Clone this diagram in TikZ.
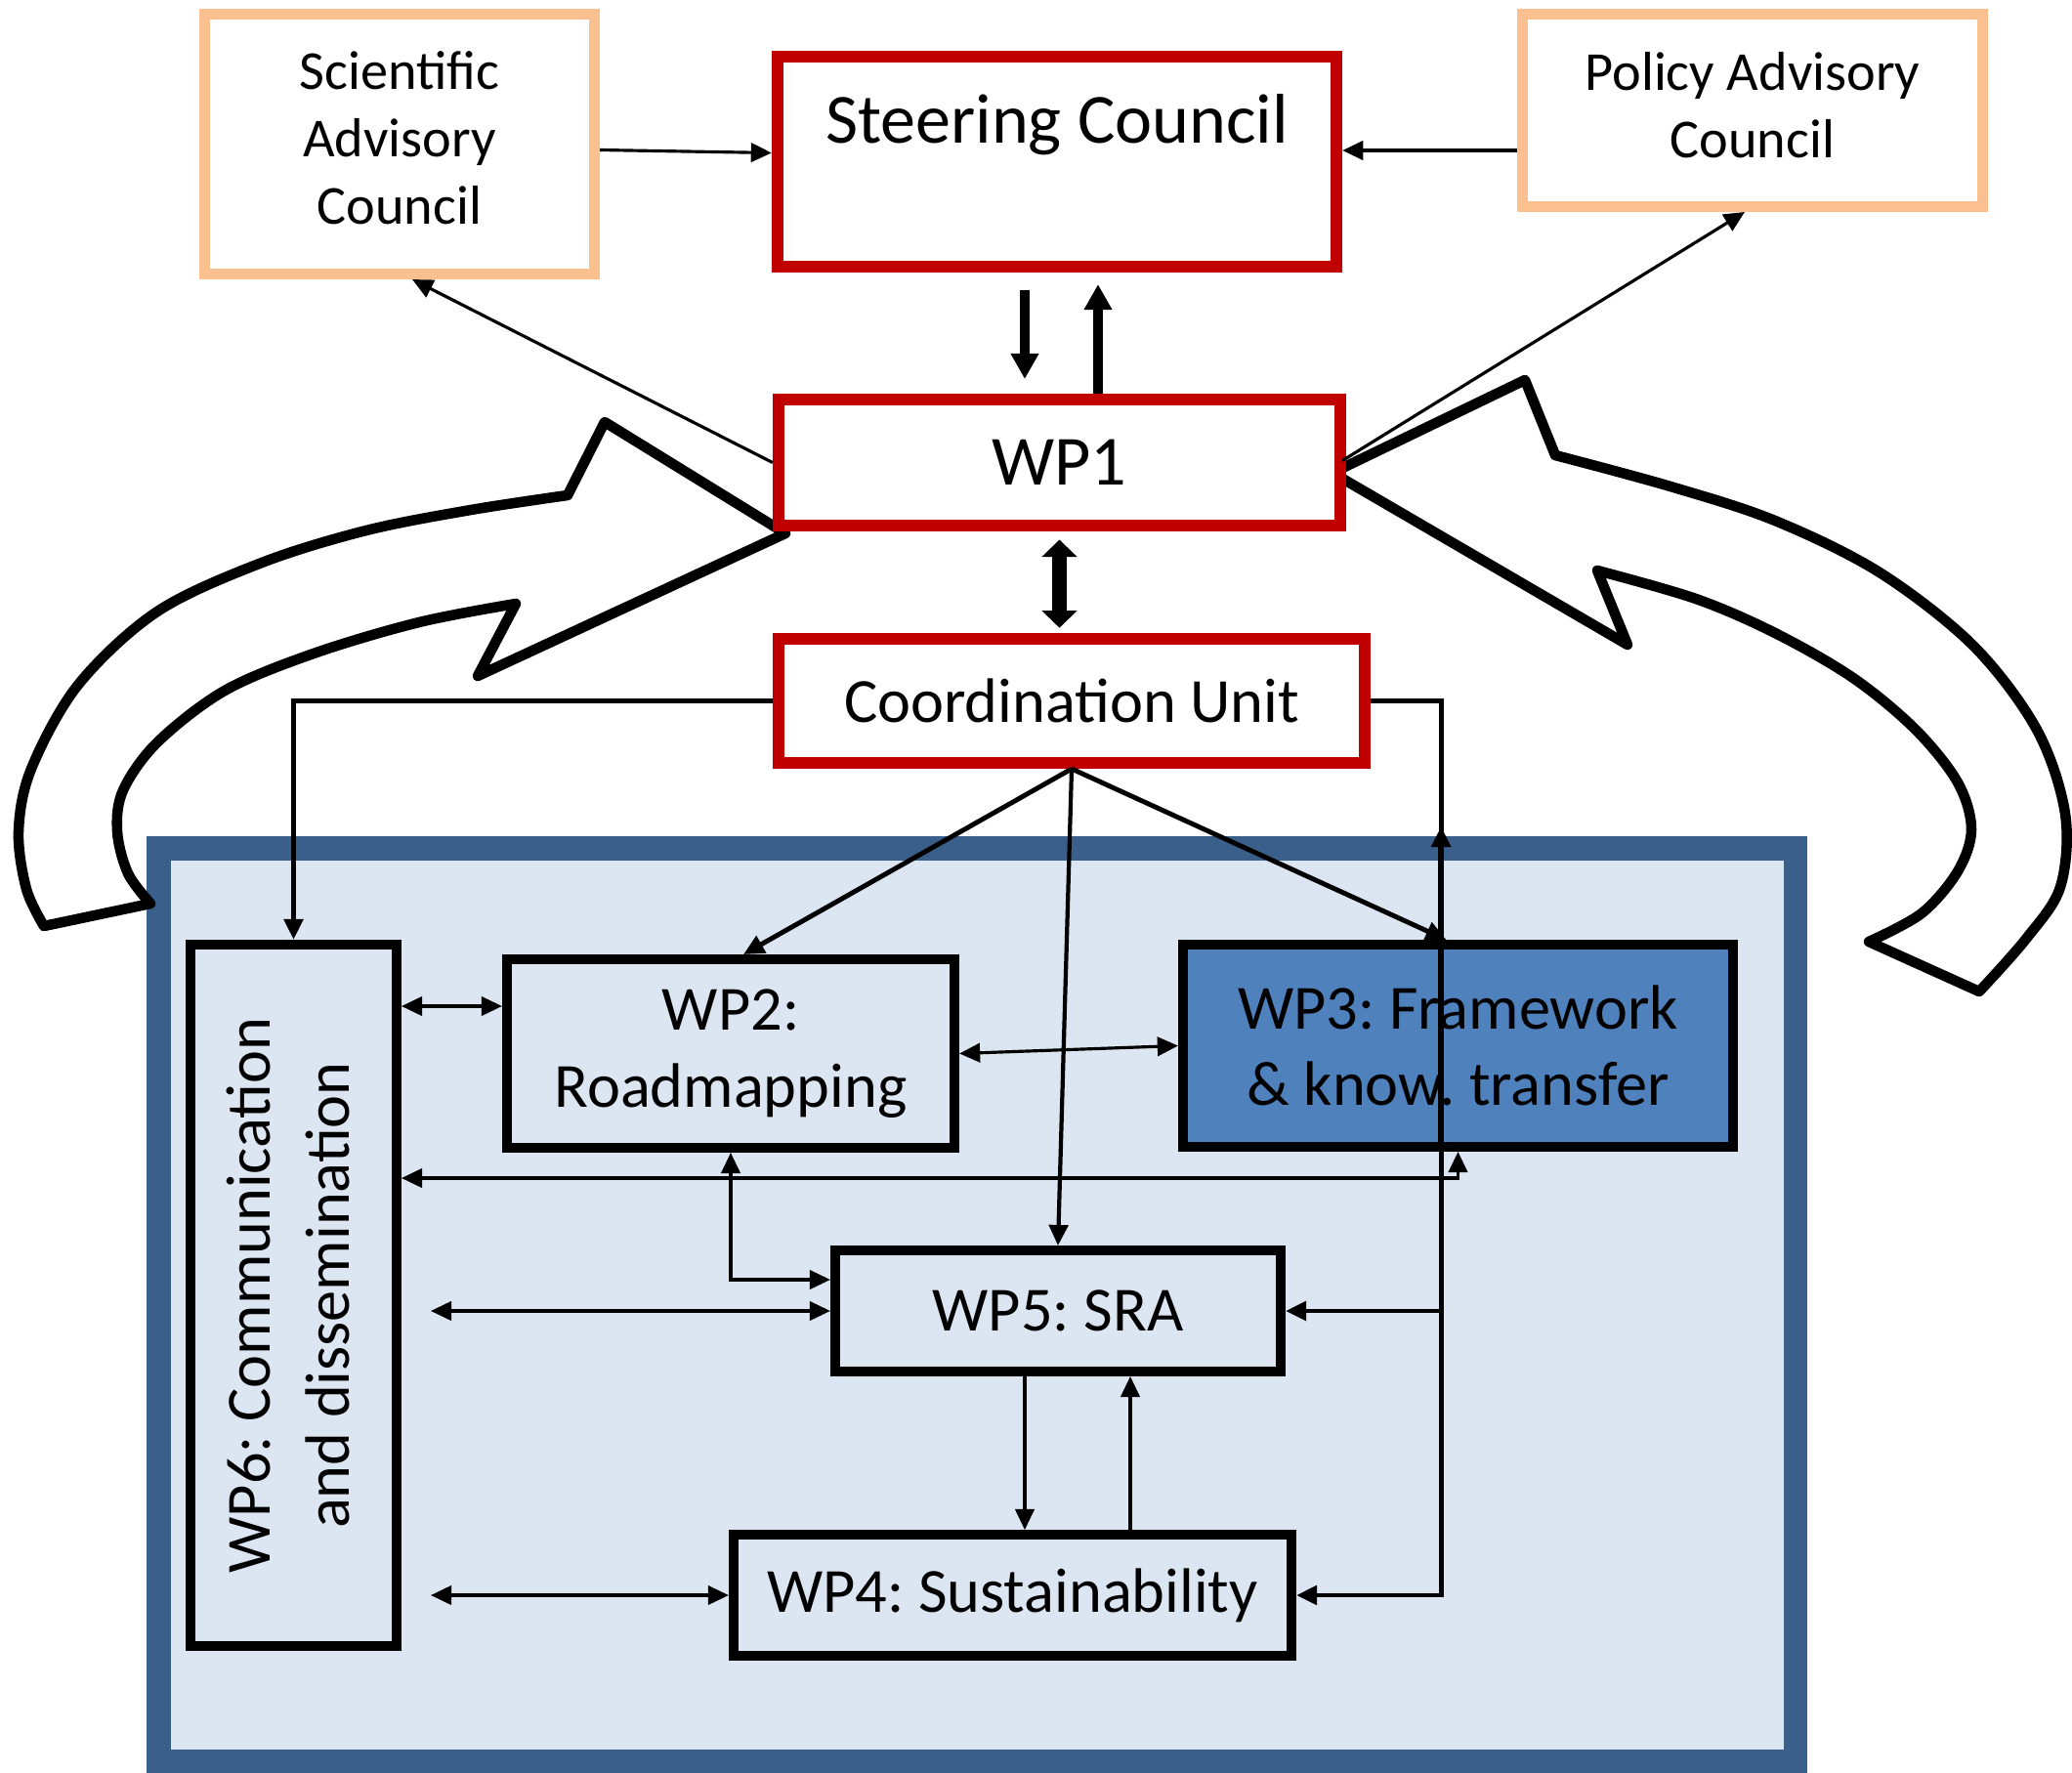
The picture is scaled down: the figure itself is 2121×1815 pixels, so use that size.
\documentclass[tikz,border=0pt]{standalone}
\usepackage{fontspec}
\setmainfont{Carlito}
\usetikzlibrary{arrows.meta,calc}
\frenchspacing

\definecolor{advorange}{HTML}{FAC090}
\definecolor{scred}{HTML}{C00000}
\definecolor{zoneblue}{HTML}{3A5F8B}
\definecolor{zonefill}{HTML}{DCE6F2}
\definecolor{wpblue}{HTML}{4F81BD}

\tikzset{
  advbox/.style={draw=advorange,line width=3.1pt,fill=white,align=center,inner sep=0pt,font=\fontsize{16}{19.6}\selectfont},
  redbox/.style={draw=scred,line width=3.4pt,fill=white,align=center,inner sep=0pt,font=\fontsize{20.5}{24}\selectfont},
  wpbox/.style={draw=black,line width=2.8pt,fill=zonefill,align=center,inner sep=0pt,font=\fontsize{18.3}{22.4}\selectfont},
  zonebox/.style={draw=zoneblue,line width=7.1pt,fill=zonefill,inner sep=0pt},
  blockarrow/.style={draw=black,fill=white,line width=3pt,line join=round},
  link/.style={line width=0.9pt},
  culink/.style={line width=1.4pt},
  fatlink/.style={line width=3pt,-{Triangle[length=7.4pt,width=7.7pt]}}
}

\begin{document}
\begin{tikzpicture}[x=0.01cm,y=-0.01cm,>={Triangle[length=6pt,width=5.5pt]}]
\useasboundingbox (0,0) rectangle (2121,1815);

% work package area
\node[zonebox,minimum width=16.75cm,minimum height=9.35cm] (zone) at (1000,1336) {};

% feedback arrows
\draw[blockarrow] (45,948) -- (154,925)
  -- plot[smooth,tension=0.55] coordinates {(154,925) (131,894) (120,851) (126,809) (161,760) (230,707) (321,669) (429,637) (528,618)}
  -- (489,692) -- (804,546) -- (619,432) -- (581,507)
  -- plot[smooth,tension=0.55] coordinates {(581,507) (482,522) (375,543) (268,576) (161,626) (80,701) (32,787) (19,851) (27,910) (45,948)}
  -- cycle;
\draw[blockarrow] (1364,484) -- (1561,389) -- (1592,466)
  -- plot[smooth,tension=0.55] coordinates {(1592,466) (1710,498) (1817,533) (1924,586) (2020,661) (2085,747) (2114,833) (2109,908) (2074,961) (2026,1015)}
  -- (1913,964)
  -- plot[smooth,tension=0.55] coordinates {(1913,964) (1967,935) (2004,892) (2018,849) (2004,801) (1961,747) (1897,694) (1817,648) (1736,613) (1635,584)}
  -- (1666,660) -- cycle;

% councils
\node[advbox,minimum width=3.99cm,minimum height=2.66cm] (sac) at (409,147.5) {Scientific\\Advisory\\Council\\[-16pt]\mbox{}};
\node[advbox,minimum width=4.71cm,minimum height=1.97cm] (pac) at (1794,113) {Policy Advisory\\Council\\[-16.6pt]\mbox{}};
\node[redbox,minimum width=5.72cm,minimum height=2.15cm] (sc) at (1082,165.5) {};
\node[font=\fontsize{20.5}{24}\selectfont] (sctitle) at (1082,128) {Steering Council};
\node[redbox,minimum width=5.75cm,minimum height=1.29cm] (wp1) at (1084.5,473.5) {WP1};
\node[redbox,minimum width=6cm,minimum height=1.27cm,font=\fontsize{18.3}{22.4}\selectfont] (cu) at (1097,717.5) {Coordination Unit};

% work packages
\node[wpbox,minimum width=2.11cm,minimum height=7.18cm] (wp6) at (300.5,1326)
  {\rotatebox{90}{\fontsize{18.3}{23}\selectfont\begin{tabular}{@{}c@{}}WP6: Communication\\and dissemination\end{tabular}}};
\node[wpbox,minimum width=4.58cm,minimum height=1.93cm] (wp2) at (748,1078.5) {WP2:\\Roadmapping};
\node[wpbox,fill=wpblue,minimum width=5.63cm,minimum height=2.07cm] (wp3) at (1492.5,1070.5) {WP3: Framework\\\& know. transfer};
\node[wpbox,minimum width=4.56cm,minimum height=1.24cm] (wp5) at (1083,1342) {WP5: SRA};
\node[wpbox,minimum width=5.71cm,minimum height=1.24cm] (wp4) at (1036.5,1633) {WP4: Sustainability};

% links between councils
\draw[link,->] ($(sac.east)+(0,6)$) -- ($(sc.west)+(0,-9)$);
\draw[link,->] (pac.west |- 0,154) -- (sc.east |- 0,154);
\draw[link,->] (wp1.west) -- ($(sac.south)+(13,0)$);
\draw[link,->] ($(wp1.east)+(-4,-2)$) -- ($(pac.south)+(-8,0)$);
\draw[fatlink] ($(sc.south)+(-33,18)$) -- ($(wp1.north)+(-35.5,-15)$);
\draw[fatlink] ($(wp1.north)+(39.5,0)$) -- ($(sc.south)+(42,12)$);
\draw[line width=4.5pt,{Triangle[length=5pt,width=10pt]}-{Triangle[length=5pt,width=10pt]},shorten <=2.4pt,shorten >=1.5pt] (wp1.south) -- (wp1.south |- cu.north);

% coordination unit
\coordinate (bus) at ($(cu.east)+(72,0)$);
\draw[culink,->] (cu.west) -| (wp6.north);
\draw[culink,->] (cu.south) -- ($(wp2.north)+(13,0)$);
\draw[line width=1.2pt,->] (cu.south) -- (wp5.north);
\draw[culink,->] (cu.south) -- ($(wp3.north)+(-12,0)$);
\draw[culink,->] (cu.east) -| (bus |- wp4.east) -- (wp4.east);
\draw[culink,->] (bus |- wp5.east) -- (wp5.east);
\draw[line width=1.8pt,->] (bus |- wp3.south) -- (bus |- 0,846);

% between work packages
\coordinate (free) at ($(wp6.east)+(30,0)$);
\draw[link,<->] (wp6.east |- 0,1030) -- (wp2.west |- 0,1030);
\draw[link,<->] (wp2.east) -- (wp3.west);
\draw[link,<->] (wp6.east |- 0,1206) -| (wp3.south);
\draw[link,<->] (wp2.south) |- (wp5.west |- 0,1310);
\draw[link,<->] (free |- wp5.west) -- (wp5.west);
\draw[link,<->] (free |- wp4.west) -- (wp4.west);
\draw[link,->] (wp5.south -| 1049,0) -- (wp4.north -| 1049,0);
\draw[link,->] (wp4.north -| 1157,0) -- (wp5.south -| 1157,0);
\end{tikzpicture}
\end{document}
